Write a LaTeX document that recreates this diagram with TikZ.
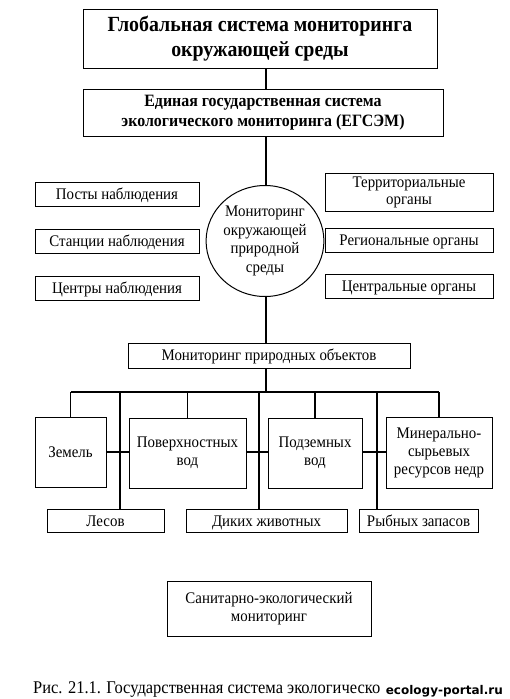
\documentclass[tikz,border=0pt]{standalone}
\usepackage{fontspec}
\setmainfont[FakeStretch=0.92]{Liberation Serif}
\newfontfamily\wmfont{DejaVu Sans}
\usetikzlibrary{positioning,shapes.geometric}

\tikzset{
    frame/.style={draw, line width=1pt, inner sep=1pt, font=\fontsize{16.2}{18}\selectfont},
    box/.style={frame, align=center},
    onebox/.style={frame, text height=11pt, text depth=1pt},
    link/.style={line width=1.6pt},
}

\begin{document}
\begin{tikzpicture}[x=1pt,y=-1pt]
    \useasboundingbox (0,0) rectangle (510,699);
    \coordinate (spine) at (266,0);
    % Upper boxes
    \node[box, minimum width=354, minimum height=59, font=\bfseries\fontsize{21.6}{25}\selectfont] (global) at (260,38.5) {Глобальная система мониторинга\\окружающей среды};
    \node[box, minimum width=360, minimum height=47, font=\bfseries\fontsize{17.3}{20}\selectfont] (egsem) at (263,112.5) {Единая государственная система\\экологического мониторинга (ЕГСЭМ)};
    % Circle and the two columns
    \node[draw, ellipse, line width=1pt, minimum width=105, minimum height=111, inner sep=0pt, align=center, font=\fontsize{16.2}{18.7}\selectfont] (nature) at (265,241) {Мониторинг\\окружающей\\природной\\среды};
    \node[onebox, minimum width=164, minimum height=24] (posty) at (117,194) {Посты наблюдения};
    \node[onebox, minimum width=164, minimum height=24] (stancii) at (117,241) {Станции наблюдения};
    \node[onebox, minimum width=164, minimum height=24] (centry) at (117,288) {Центры наблюдения};
    \node[box, minimum width=168, minimum height=38, font=\fontsize{16.2}{17}\selectfont] (terr) at (409,192) {Территориальные\\органы};
    \node[onebox, minimum width=168, minimum height=24] (region) at (409,240) {Региональные органы};
    \node[onebox, minimum width=168, minimum height=24] (central) at (409,286.5) {Центральные органы};
    \draw[link] (global.south -| spine) -- (egsem.north -| spine);
    \draw[link] (egsem.south -| spine) -- (nature.north -| spine);
    % Natural objects
    \node[onebox, minimum width=282, minimum height=25] (objects) at (269,355.5) {Мониторинг природных объектов};
    \draw[link] (nature.south -| spine) -- (objects.north -| spine);
    \node[onebox, minimum width=71, minimum height=70] (zemel) at (70.5,452) {Земель};
    \node[box, minimum width=117, minimum height=70] (poverh) at (187.5,453) {Поверхностных\\вод};
    \node[box, minimum width=94, minimum height=70] (podzem) at (315,453) {Подземных\\вод};
    \node[box, minimum width=106, minimum height=71] (mineral) at (439,452.5) {Минерально-\\сырьевых\\ресурсов недр};
    \node[onebox, minimum width=117, minimum height=23] (lesov) at (105.5,521) {Лесов};
    \node[onebox, minimum width=161, minimum height=23] (dikih) at (266.5,521) {Диких животных};
    \node[onebox, minimum width=119, minimum height=23] (rybn) at (418.5,521) {Рыбных запасов};
    \coordinate (barL) at (70.5,392);
    \coordinate (lesDrop) at (120,392);
    \coordinate (dikDrop) at (259,392);
    \coordinate (rybDrop) at (377,392);
    \draw[link] (objects.south -| spine) -- (spine |- barL);
    \draw[link] (barL) -- (mineral.north |- barL);
    \draw[link] (barL) -- (zemel.north);
    \draw[link] (poverh.north |- barL) -- (poverh.north);
    \draw[link] (podzem.north |- barL) -- (podzem.north);
    \draw[link] (mineral.north |- barL) -- (mineral.north);
    \draw[link] (lesDrop) -- (lesDrop |- lesov.north);
    \draw[link] (dikDrop) -- (dikDrop |- dikih.north);
    \draw[link] (rybDrop) -- (rybDrop |- rybn.north);
    \draw[link] (zemel.east) -- (poverh.west |- zemel.east);
    \draw[link] (poverh.east |- zemel.east) -- (podzem.west |- zemel.east);
    \draw[link] (podzem.east |- zemel.east) -- (mineral.west |- zemel.east);
    % Sanitary box and caption
    \node[box, minimum width=204, minimum height=55] (sanit) at (269,608.5) {Санитарно-экологический\\мониторинг};
    \node[anchor=base west, inner sep=0pt, font=\fontsize{17.9}{18}\selectfont] (caption) at (33,693) {Рис. 21.1. Государственная система экологическо};
    \node[anchor=base east, inner sep=1pt, fill=white, font=\wmfont\bfseries\fontsize{12}{14}\selectfont] (mark) at (504,694) {ecology-portal.ru};
\end{tikzpicture}
\end{document}
